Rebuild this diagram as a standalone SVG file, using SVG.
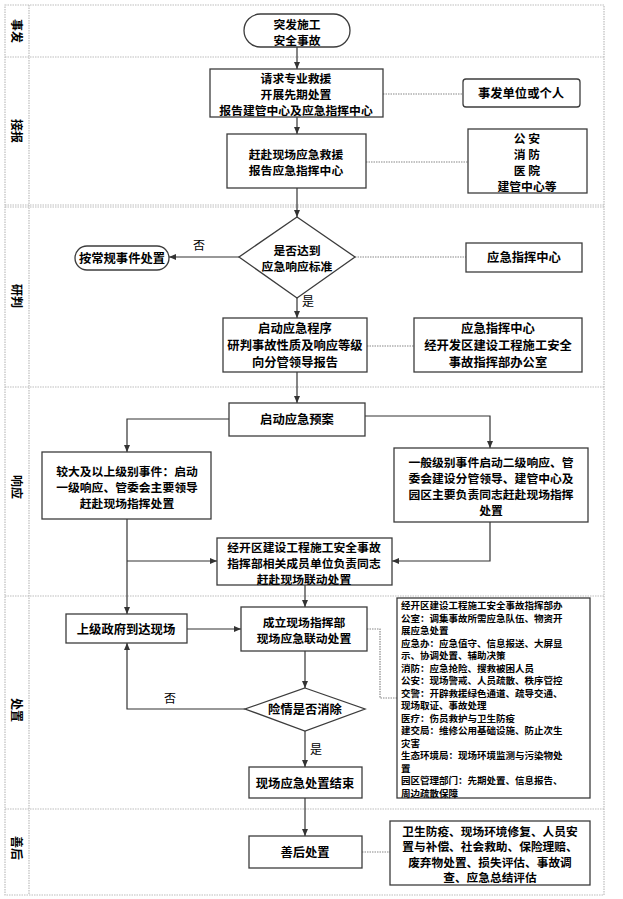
<svg xmlns="http://www.w3.org/2000/svg" width="623" height="899" viewBox="0 0 623 899">
<defs>
<marker id="arr" markerUnits="userSpaceOnUse" markerWidth="7" markerHeight="6" refX="7" refY="3" orient="auto">
<path d="M0,0 L7,3 L0,6 z" fill="#333"/>
</marker>
<style>
.lane{fill:none;stroke:#bdbdbd;stroke-width:1.2;stroke-dasharray:1.5,1}
.box{fill:#fff;stroke:#3c3c3c;stroke-width:1.3}
.t{font-family:"Noto Sans CJK SC","Noto Sans",sans-serif;font-size:12.3px;font-weight:bold;fill:#000;text-anchor:middle;dominant-baseline:central}
.m{font-family:"Noto Sans CJK SC","Noto Sans",sans-serif;font-size:11.8px;font-weight:bold;fill:#000;text-anchor:middle;dominant-baseline:central}
.m12{font-size:12.3px}
.s{font-family:"Noto Sans CJK SC","Noto Sans",sans-serif;font-size:9.5px;font-weight:bold;fill:#000;dominant-baseline:central}
.lbl{font-family:"Noto Sans CJK SC","Noto Sans",sans-serif;font-size:12px;fill:#000;text-anchor:middle;dominant-baseline:central}
.ln{font-family:"Noto Sans CJK SC","Noto Sans",sans-serif;font-size:12px;font-weight:bold;fill:#000;text-anchor:middle;dominant-baseline:central}
.c{fill:none;stroke:#333;stroke-width:1.2;marker-end:url(#arr)}
.d{fill:none;stroke:#888;stroke-width:1.2;stroke-dasharray:1.5,1}
</style>
</defs>
<rect width="623" height="899" fill="#fff"/>
<g id="lanes">
<rect class="lane" x="5" y="5" width="599" height="890"/>
<line class="lane" x1="29" y1="5" x2="29" y2="895"/>
<line class="lane" x1="5" y1="57" x2="604" y2="57"/>
<line class="lane" x1="5" y1="205" x2="604" y2="205"/>
<line class="lane" x1="5" y1="207" x2="604" y2="207"/>
<line class="lane" x1="5" y1="387" x2="604" y2="387"/>
<line class="lane" x1="5" y1="596" x2="604" y2="596"/>
<line class="lane" x1="5" y1="809" x2="604" y2="809"/>
<text class="ln" transform="translate(17,31) rotate(90)">事发</text>
<text class="ln" transform="translate(17,131) rotate(90)">接报</text>
<text class="ln" transform="translate(17,296) rotate(90)">研判</text>
<text class="ln" transform="translate(17,487) rotate(90)">响应</text>
<text class="ln" transform="translate(17,710) rotate(90)">处置</text>
<text class="ln" transform="translate(17,848) rotate(90)">善后</text>
</g>
<g id="connectors">
<path class="c" d="M297,47 V69"/>
<path class="c" d="M297,117 V134"/>
<path class="c" d="M297,188 V217"/>
<path class="c" d="M239,257 H169"/>
<path class="c" d="M297,298 V318"/>
<path class="c" d="M297,372 V403"/>
<path class="c" d="M229,419 H127 V452"/>
<path class="c" d="M365,416 H490 V448"/>
<path class="c" d="M127,519 V614"/>
<path class="c" d="M127,561 H217"/>
<path class="c" d="M490,522 V561 H392"/>
<path class="c" d="M305,585 V607"/>
<path class="c" d="M187,629 H241"/>
<path class="c" d="M305,651 V688"/>
<path class="c" d="M245,709 H127 V643"/>
<path class="c" d="M305,731 V767"/>
<path class="c" d="M305,798 V836"/>
<path class="d" d="M383,94 H463"/>
<path class="d" d="M366,162 H468"/>
<path class="d" d="M355,257 H466"/>
<path class="d" d="M367,346 H414"/>
<path class="d" d="M367,629 H380 V698 H397"/>
<path class="d" d="M362,852 H390"/>
<text class="lbl" x="199" y="244">否</text>
<text class="lbl" x="308" y="300">是</text>
<text class="lbl" x="170" y="697">否</text>
<text class="lbl" x="316" y="748">是</text>
</g>
<g id="start">
<rect class="box" x="244" y="14" width="106" height="33" rx="16.5"/>
<text class="m" y="22.5"><tspan x="297">突发施工</tspan><tspan x="297" dy="16">安全事故</tspan></text>
</g>
<g id="n-request">
<rect class="box" x="210" y="69" width="173" height="48"/>
<text class="m" y="77"><tspan x="296">请求专业救援</tspan><tspan x="296" dy="16">开展先期处置</tspan><tspan x="296" dy="16">报告建管中心及应急指挥中心</tspan></text>
</g>
<g id="n-unit">
<rect class="box" x="463" y="79" width="117" height="28" rx="3"/>
<text class="t" x="521" y="93">事发单位或个人</text>
</g>
<g id="n-rescue">
<rect class="box" x="227" y="134" width="139" height="54"/>
<text class="m" y="153"><tspan x="296">赶赴现场应急救援</tspan><tspan x="296" dy="16">报告应急指挥中心</tspan></text>
</g>
<g id="n-agencies">
<rect class="box" x="468" y="129" width="119" height="64"/>
<text class="m" y="137"><tspan x="527">公 安</tspan><tspan x="527" dy="16">消 防</tspan><tspan x="527" dy="16">医 院</tspan><tspan x="527" dy="16">建管中心等</tspan></text>
</g>
<g id="d-standard">
<polygon class="box" points="297,217 355,257 297,298 239,257"/>
<text class="m" y="249"><tspan x="297">是否达到</tspan><tspan x="297" dy="16">应急响应标准</tspan></text>
</g>
<g id="n-routine">
<rect class="box" x="75" y="246" width="94" height="24" rx="12"/>
<text class="t" x="122" y="258">按常规事件处置</text>
</g>
<g id="n-cmd1">
<rect class="box" x="466" y="243" width="116" height="29"/>
<text class="t" x="524" y="257">应急指挥中心</text>
</g>
<g id="n-program">
<rect class="box" x="223" y="318" width="144" height="54"/>
<text class="m m12" y="328"><tspan x="295">启动应急程序</tspan><tspan x="295" dy="17">研判事故性质及响应等级</tspan><tspan x="295" dy="17">向分管领导报告</tspan></text>
</g>
<g id="n-cmd2">
<rect class="box" x="414" y="318" width="168" height="54"/>
<text class="m m12" y="328"><tspan x="498">应急指挥中心</tspan><tspan x="498" dy="17">经开发区建设工程施工安全</tspan><tspan x="498" dy="17">事故指挥部办公室</tspan></text>
</g>
<g id="n-plan">
<rect class="box" x="229" y="403" width="136" height="33"/>
<text class="t" x="297" y="419">启动应急预案</text>
</g>
<g id="n-level1">
<rect class="box" x="42" y="452" width="169" height="67"/>
<text class="m" y="469.5"><tspan x="127">较大及以上级别事件：启动</tspan><tspan x="127" dy="16">一级响应、管委会主要领导</tspan><tspan x="127" dy="16">赶赴现场指挥处置</tspan></text>
</g>
<g id="n-level2">
<rect class="box" x="394" y="448" width="194" height="74"/>
<text class="m" y="461"><tspan x="491">一般级别事件启动二级响应、管</tspan><tspan x="491" dy="16">委会建设分管领导、建管中心及</tspan><tspan x="491" dy="16">园区主要负责同志赶赴现场指挥</tspan><tspan x="491" dy="16">处置</tspan></text>
</g>
<g id="n-members">
<rect class="box" x="217" y="538" width="175" height="47"/>
<text class="m" y="545.5"><tspan x="304">经开区建设工程施工安全事故</tspan><tspan x="304" dy="16">指挥部相关成员单位负责同志</tspan><tspan x="304" dy="16">赶赴现场联动处置</tspan></text>
</g>
<g id="n-gov">
<rect class="box" x="66" y="614" width="121" height="29"/>
<text class="t" x="126" y="629">上级政府到达现场</text>
</g>
<g id="n-hq">
<rect class="box" x="241" y="607" width="126" height="44"/>
<text class="m" y="621"><tspan x="304">成立现场指挥部</tspan><tspan x="304" dy="16">现场应急联动处置</tspan></text>
</g>
<g id="n-duties">
<rect class="box" x="397" y="598" width="193" height="200"/>
<text class="s" y="605"><tspan x="401">经开区建设工程施工安全事故指挥部办</tspan><tspan x="401" dy="12.5">公室：调集事故所需应急队伍、物资开</tspan><tspan x="401" dy="12.5">展应急处置</tspan><tspan x="401" dy="12.5">应急办：应急值守、信息报送、大屏显</tspan><tspan x="401" dy="12.5">示、协调处置、辅助决策</tspan><tspan x="401" dy="12.5">消防：应急抢险、搜救被困人员</tspan><tspan x="401" dy="12.5">公安：现场警戒、人员疏散、秩序管控</tspan><tspan x="401" dy="12.5">交警：开辟救援绿色通道、疏导交通、</tspan><tspan x="401" dy="12.5">现场取证、事故处理</tspan><tspan x="401" dy="12.5">医疗：伤员救护与卫生防疫</tspan><tspan x="401" dy="12.5">建交局：维修公用基础设施、防止次生</tspan><tspan x="401" dy="12.5">灾害</tspan><tspan x="401" dy="12.5">生态环境局：现场环境监测与污染物处</tspan><tspan x="401" dy="12.5">置</tspan><tspan x="401" dy="12.5">园区管理部门：先期处置、信息报告、</tspan><tspan x="401" dy="12.5">周边疏散保障</tspan></text>
</g>
<g id="d-cleared">
<polygon class="box" points="305,688 365,709 305,731 245,709"/>
<text class="t" x="305" y="709">险情是否消除</text>
</g>
<g id="n-end">
<rect class="box" x="249" y="767" width="113" height="31"/>
<text class="t" x="305" y="783">现场应急处置结束</text>
</g>
<g id="n-after">
<rect class="box" x="249" y="836" width="113" height="32"/>
<text class="t" x="305" y="852">善后处置</text>
</g>
<g id="n-after-items">
<rect class="box" x="390" y="821" width="200" height="64"/>
<text class="m" style="font-size:11.7px" y="829.6"><tspan x="490">卫生防疫、现场环境修复、人员安</tspan><tspan x="490" dy="15.6">置与补偿、社会救助、保险理赔、</tspan><tspan x="490" dy="15.6">废弃物处置、损失评估、事故调</tspan><tspan x="490" dy="15.6">查、应急总结评估</tspan></text>
</g>
</svg>
